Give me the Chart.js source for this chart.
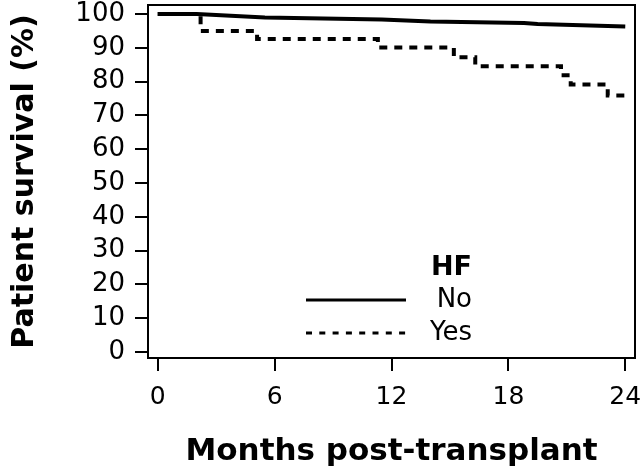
<!DOCTYPE html>
<html>
<head>
<meta charset="utf-8">
<script src="https://cdn.jsdelivr.net/npm/chart.js@4"></script>
<style>
  html, body { margin: 0; padding: 0; background: #fff; }
  #wrap { width: 643px; height: 471px; }
</style>
</head>
<body>
<div id="wrap"><canvas id="survChart"></canvas></div>
<script>
// --- data ---
const noMonths = [0, 2, 5.5, 11.5, 14, 18.8, 19.5, 24];
const noSurvival = [100, 100, 99.0, 98.4, 97.8, 97.4, 97.1, 96.3];
const yesMonths = [0, 2.2, 5.1, 11.3, 15.2, 16.3, 20.7, 21.2, 23.1, 24];
const yesSurvival = [100, 95, 92.6, 90.1, 87.2, 84.6, 81.9, 79.2, 75.9, 75.9];
const xTicks = [0, 6, 12, 18, 24];
const yTicks = [0, 10, 20, 30, 40, 50, 60, 70, 80, 90, 100];
const groupLabels = ['No', 'Yes'];
const legendTitle = 'HF';

const FONT = '"DejaVu Sans", Verdana, sans-serif';

function toPoints(xs, ys) {
  return xs.map((x, i) => ({ x: x, y: ys[i] }));
}

// keep the plot box where the reference has it (labels may overhang)
function noOverhang(s) {
  s.paddingLeft = 0;
  s.paddingRight = 0;
  s.paddingTop = 0;
  s.paddingBottom = 0;
}

// box around the plot (top + right sides)
const framePlugin = {
  id: 'frame',
  afterDatasetsDraw(chart) {
    const { ctx, chartArea: a } = chart;
    ctx.save();
    ctx.strokeStyle = '#000';
    ctx.lineWidth = 2;
    ctx.strokeRect(a.left, a.top, a.right - a.left, a.bottom - a.top);
    ctx.restore();
  }
};

// legend: "HF" title, then line sample + label per group
const legendPlugin = {
  id: 'hfLegend',
  afterDraw(chart) {
    const ctx = chart.ctx;
    ctx.save();
    ctx.fillStyle = '#000';
    ctx.textAlign = 'right';
    ctx.textBaseline = 'middle';
    ctx.font = 'bold 27px ' + FONT;
    ctx.fillText(legendTitle, 472, 268);
    chart.data.datasets.forEach((ds, i) => {
      const y = 300 + i * 33;
      ctx.beginPath();
      ctx.setLineDash(i ? [6, 7.3] : []);
      ctx.lineWidth = 3;
      ctx.strokeStyle = '#000';
      ctx.moveTo(306, y);
      ctx.lineTo(406, y);
      ctx.stroke();
      ctx.setLineDash([]);
      ctx.font = '26px ' + FONT;
      ctx.fillText(ds.label, 472, y);
    });
    ctx.restore();
  }
};

const ctx = document.getElementById('survChart').getContext('2d');
new Chart(ctx, {
  type: 'line',
  data: {
    datasets: [{
      label: groupLabels[0],
      data: toPoints(noMonths, noSurvival),
      borderColor: '#000',
      borderWidth: 4,
      pointRadius: 0,
      tension: 0,
      fill: false
    }, {
      label: groupLabels[1],
      data: toPoints(yesMonths, yesSurvival),
      borderColor: '#000',
      borderWidth: 4,
      borderDash: [8, 7],
      pointRadius: 0,
      stepped: 'before',
      fill: false
    }]
  },
  options: {
    responsive: true,
    maintainAspectRatio: false,
    animation: false,
    devicePixelRatio: 1,
    layout: { padding: { top: 5, right: 8, left: 0, bottom: 0 } },
    plugins: { legend: { display: false }, tooltip: { enabled: false } },
    scales: {
      x: {
        type: 'linear',
        min: -0.5,
        max: 24.5,
        afterBuildTicks: (s) => { s.ticks = xTicks.map(v => ({ value: v })); },
        afterFit: (s) => { s.height = 113; noOverhang(s); },
        border: { display: true, color: '#000', width: 2 },
        grid: { display: true, drawOnChartArea: false, drawTicks: true, tickLength: 13, color: '#000', lineWidth: 2 },
        ticks: { color: '#000', padding: 11, maxRotation: 0, font: { family: FONT, size: 25 } },
        title: {
          display: true,
          text: 'Months post-transplant',
          color: '#000',
          padding: { top: 0, bottom: 0 },
          font: { family: FONT, size: 31, weight: 'bold' }
        }
      },
      y: {
        min: -1.8,
        max: 102.7,
        afterBuildTicks: (s) => { s.ticks = yTicks.map(v => ({ value: v })); },
        afterFit: (s) => { s.width = 148; noOverhang(s); },
        border: { display: true, color: '#000', width: 2 },
        grid: { display: true, drawOnChartArea: false, drawTicks: true, tickLength: 13, color: '#000', lineWidth: 2 },
        ticks: { color: '#000', padding: 10, font: { family: FONT, size: 26 } },
        title: {
          display: true,
          text: 'Patient survival (%)',
          color: '#000',
          padding: { top: 7, bottom: 0 },
          font: { family: FONT, size: 30, weight: 'bold' }
        }
      }
    }
  },
  plugins: [framePlugin, legendPlugin]
});
</script>
</body>
</html>
